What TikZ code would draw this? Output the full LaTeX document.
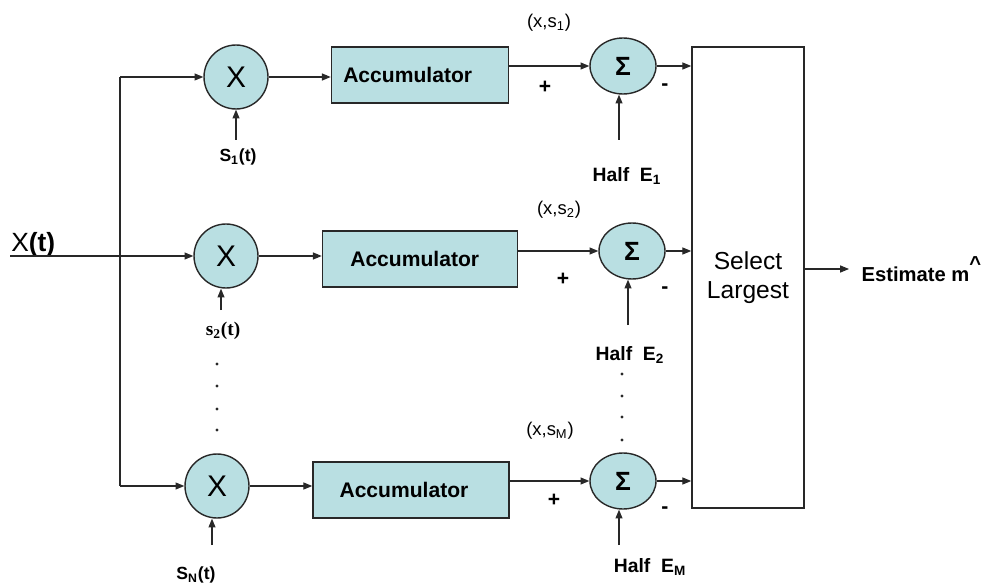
\documentclass[tikz,border=0pt]{standalone}
\usepackage{fontspec}
\setmainfont{Liberation Sans}
\newfontfamily\seriffam{Liberation Serif}
\usetikzlibrary{positioning,arrows.meta,shapes.geometric}
\definecolor{blockfill}{RGB}{185,223,226}
\definecolor{linecol}{RGB}{40,40,40}
\newcommand{\fsz}[1]{\fontsize{#1}{1.15\dimexpr#1\relax}\selectfont}

\begin{document}
\begin{tikzpicture}[
  x=0.02cm, y=-0.02cm,
  mult/.style={draw=linecol, line width=0.8pt, circle, fill=blockfill, minimum size=1.28cm, inner sep=0pt, font=\fsz{17pt}},
  acc/.style={draw=linecol, line width=0.9pt, fill=blockfill, minimum height=1.12cm, inner sep=0pt, font=\fsz{12pt}\bfseries},
  sumnode/.style={draw=linecol, line width=0.8pt, ellipse, fill=blockfill, minimum width=1.32cm, minimum height=1.12cm, inner sep=0pt, font=\fsz{15pt}\bfseries},
  sel/.style={draw=linecol, line width=0.9pt, minimum width=2.24cm, minimum height=9.22cm, align=center, font=\fsz{14pt}},
  lbl/.style={inner sep=1pt, font=\fsz{10pt}\bfseries},
  pair/.style={inner sep=1pt, font=\fsz{10.5pt}},
  sgn/.style={inner sep=0pt, font=\fsz{12pt}\bfseries},
  outlbl/.style={inner sep=0pt, inner xsep=7pt, font=\fsz{11.5pt}\bfseries},
  arr/.style={-{Triangle[length=5pt,width=4pt]}, draw=linecol, line width=0.6pt},
  wire/.style={draw=linecol, line width=0.6pt},
]
\useasboundingbox (0,0) rectangle (990,584);

% blocks
\node[mult] (m1) at (236,77) {X};
\node[mult] (m2) at (226,256) {X};
\node[mult] (m3) at (217,486) {X};
\node[acc, minimum width=3.54cm] (a1) at (420,75) {\hspace*{-14pt}Accumulator};
\node[acc, minimum width=3.9cm] (a2) at (420,259) {\hspace*{-6pt}Accumulator};
\node[acc, minimum width=3.92cm] (a3) at (411,490) {\hspace*{-8pt}Accumulator};
\node[sumnode] (sg1) at (623,66) {Σ};
\node[sumnode] (sg2) at (632,251) {Σ};
\node[sumnode] (sg3) at (623,481) {Σ};
\node[sel] (sel) at (748,277.5) {Select\\Largest};
\node[outlbl, anchor=west] (est) at (849,269) {Estimate m\raisebox{1ex}{\textasciicircum}};

% labels
\node[anchor=base west, inner sep=0pt, font=\fsz{15pt}] (xt) at (11,252) {X{\bfseries(t)}};
\node[lbl] (s1l) at (238,157) {S\textsubscript{1}(t)};
\node[lbl, font=\fsz{11pt}\seriffam\bfseries] (s2l) at (223,331) {s\textsubscript{2}(t)};
\node[lbl] (sNl) at (196,575) {S\textsubscript{N}(t)};
\node[lbl, font=\fsz{11pt}\bfseries] (h1) at (627,176) {Half~~E\textsubscript{1}};
\node[lbl, font=\fsz{11pt}\bfseries] (h2) at (630,355) {Half~~E\textsubscript{2}};
\node[lbl, font=\fsz{11pt}\bfseries] (hM) at (650,567) {Half~~E\textsubscript{M}};
\node[pair] (x1) at (549,23) {(x,s\textsubscript{1})};
\node[pair] (x2) at (559,210) {(x,s\textsubscript{2})};
\node[pair] (x3) at (550,431) {(x,s\textsubscript{M})};
\node[sgn] (p1) at (545,87) {+};
\node[sgn] (n1) at (665,87) {-};
\node[sgn] (p2) at (563,279) {+};
\node[sgn] (n2) at (665,290) {-};
\node[sgn] (p3) at (554,500) {+};
\node[sgn] (n3) at (665,510) {-};

% free ends
\coordinate (xin) at (10,256);
\coordinate (bus) at (120,0);
\coordinate (s1in) at (236,140);
\coordinate (s2in) at (221,310);
\coordinate (sNin) at (212,545);
\coordinate (e1in) at (619,140);
\coordinate (e2in) at (628,325);
\coordinate (eMin) at (619,545);

% input bus
\draw[wire] (m1 -| bus) -- (m3 -| bus);
\draw[arr] (m1 -| bus) -- (m1);
\draw[arr] (xin) -- (m2);
\draw[arr] (m3 -| bus) -- (m3);
\draw[arr] (s1in) -- (m1.south);
\draw[arr] (s2in) -- (s2in |- m2.south);
\draw[arr] (sNin) -- (sNin |- m3.south);

% branches
\draw[arr] (m1) -- (m1 -| a1.west);
\draw[arr] (m2) -- (m2 -| a2.west);
\draw[arr] (m3) -- (m3 -| a3.west);
\draw[arr] (sg1 -| a1.east) -- (sg1);
\draw[arr] (sg2 -| a2.east) -- (sg2);
\draw[arr] (sg3 -| a3.east) -- (sg3);
\draw[arr] (e1in) -- (e1in |- sg1.south);
\draw[arr] (e2in) -- (e2in |- sg2.south);
\draw[arr] (eMin) -- (eMin |- sg3.south);
\draw[arr] (sg1) -- (sg1 -| sel.west);
\draw[arr] (sg2) -- (sg2 -| sel.west);
\draw[arr] (sg3) -- (sg3 -| sel.west);
\draw[arr] (est -| sel.east) -- (est);

% dots
\fill[linecol] (217,364) circle (0.9pt) (217,386) circle (0.9pt) (217,409) circle (0.9pt) (217,430) circle (0.9pt);
\fill[linecol] (622,374) circle (0.9pt) (622,396) circle (0.9pt) (622,417) circle (0.9pt) (622,440) circle (0.9pt);
\end{tikzpicture}
\end{document}
